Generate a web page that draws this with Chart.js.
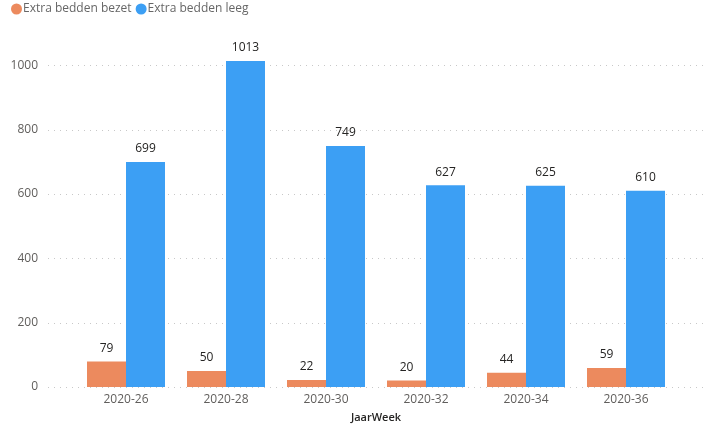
<!DOCTYPE html>
<html><head><meta charset="utf-8">
<script src="https://cdn.jsdelivr.net/npm/chart.js@4/dist/chart.umd.min.js"></script>
<style>html,body{margin:0;padding:0;background:#fff}#wrap{width:719px;height:425px}</style>
</head><body><div id="wrap"><canvas id="c" width="719" height="425"></canvas></div>
<script>
const categories = ['2020-26','2020-28','2020-30','2020-32','2020-34','2020-36'];
const bezet = [79, 50, 22, 20, 44, 59];
const leeg = [699, 1013, 749, 627, 625, 610];
const yTicks = [0, 200, 400, 600, 800, 1000];

const FONT = "'Open Sans', 'Noto Sans', sans-serif";

const gridPlugin = {
  id: 'extGrid',
  beforeDatasetsDraw(chart) {
    const ctx = chart.ctx, y = chart.scales.y;
    ctx.save();
    ctx.strokeStyle = '#c8c8c8';
    ctx.lineWidth = 1;
    ctx.setLineDash([1, 5]);
    yTicks.forEach(v => {
      const py = Math.round(y.getPixelForValue(v)) + 0.5;
      ctx.beginPath(); ctx.moveTo(48, py); ctx.lineTo(708, py); ctx.stroke();
    });
    ctx.restore();
  }
};
const labelPlugin = {
  id: 'vals',
  afterDatasetsDraw(chart) {
    const ctx = chart.ctx;
    ctx.save();
    ctx.font = "12px " + FONT;
    ctx.fillStyle = '#252423';
    ctx.textAlign = 'center';
    ctx.textBaseline = 'bottom';
    chart.data.datasets.forEach((ds, i) => {
      chart.getDatasetMeta(i).data.forEach((bar, j) => {
        ctx.fillText(String(ds.data[j]), bar.x, bar.y - 7);
      });
    });
    ctx.restore();
  }
};
const legendPlugin = {
  id: 'customLegend',
  afterDraw(chart) {
    const ctx = chart.ctx;
    ctx.save();
    ctx.font = "12px " + FONT;
    ctx.textBaseline = 'middle';
    ctx.textAlign = 'left';
    let x = 11;
    const cy = 9;
    chart.data.datasets.forEach(ds => {
      ctx.fillStyle = ds.backgroundColor;
      ctx.beginPath(); ctx.arc(x + 5.5, cy, 5.5, 0, Math.PI * 2); ctx.fill();
      ctx.fillStyle = '#666666';
      ctx.fillText(ds.label, x + 12, cy);
      x += 12 + ctx.measureText(ds.label).width + 4;
    });
    ctx.restore();
  }
};

new Chart(document.getElementById('c'), {
  type: 'bar',
  data: {
    labels: categories,
    datasets: [
      { label: 'Extra bedden bezet', data: bezet, backgroundColor: '#EC8A5E' },
      { label: 'Extra bedden leeg', data: leeg, backgroundColor: '#3C9FF4' }
    ]
  },
  options: {
    responsive: false,
    animation: false,
    devicePixelRatio: 1,
    layout: { padding: { left: 6, right: 43, top: 33, bottom: 1 } },
    datasets: { bar: { categoryPercentage: 0.78, barPercentage: 1 } },
    plugins: {
      legend: { display: false },
      tooltip: { enabled: false }
    },
    scales: {
      x: {
        grid: { display: false, drawTicks: false, tickLength: 0 }, border: { display: false },
        afterFit(s) { s.height = 37; s.paddingLeft = 0; s.paddingRight = 0; },
        ticks: { color: '#605E5C', font: { family: FONT, size: 12 }, padding: 5 },
        title: { display: true, text: 'JaarWeek', color: '#252423', font: { family: FONT, size: 11, weight: '600' }, padding: { top: 0, bottom: 0 } }
      },
      y: {
        min: 0, max: 1100,
        grid: { display: false, drawTicks: false, tickLength: 0 }, border: { display: false },
        afterBuildTicks(s) { s.ticks = yTicks.map(v => ({ value: v })); },
        afterFit(s) { s.width = 70; s.paddingTop = 0; s.paddingBottom = 0; },
        ticks: { color: '#605E5C', font: { family: FONT, size: 12 }, padding: 38, callback: v => String(v) }
      }
    }
  },
  plugins: [gridPlugin, labelPlugin, legendPlugin]
});
</script></body></html>
